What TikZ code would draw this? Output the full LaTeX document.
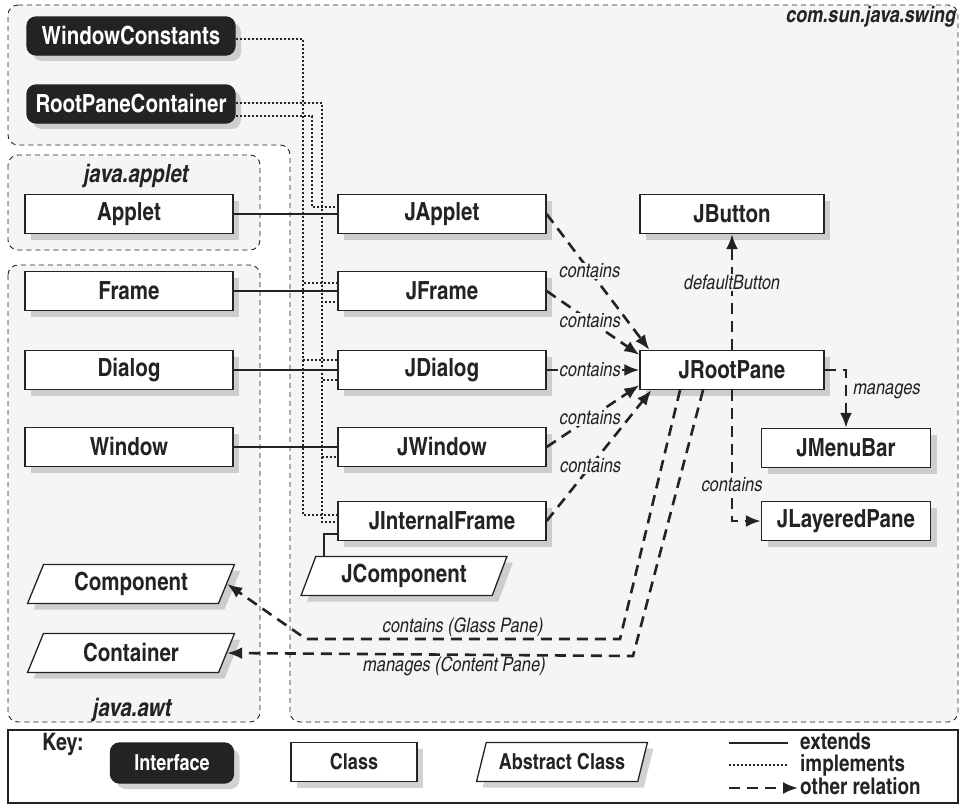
\documentclass[tikz,border=0pt]{standalone}
\usepackage{fontspec}
\setmainfont{texgyreheroscn}[Extension=.otf,UprightFont=*-regular,BoldFont=*-bold,ItalicFont=*-italic,BoldItalicFont=*-bolditalic]
\usetikzlibrary{arrows.meta,shapes.geometric,shadows,calc}
\definecolor{pkgfill}{RGB}{245,245,245}
\definecolor{ink}{RGB}{35,35,35}

\begin{document}
\begin{tikzpicture}[x=1pt,y=-1pt,
    shd/.style={drop shadow={shadow xshift=6pt,shadow yshift=-6pt,fill=black!35}},
    cls/.style={draw=ink, line width=1.3pt, fill=white, minimum width=208pt, minimum height=39pt, font=\fontsize{25}{27}\selectfont\bfseries, text=ink, shd},
    iface/.style={cls, fill=ink, text=white, rounded corners=9pt},
    abst/.style={cls, trapezium, trapezium left angle=70, trapezium right angle=110, trapezium stretches=true},
    keyfont/.style={font=\fontsize{22}{24}\selectfont\bfseries},
    pkg/.style={draw=ink, dash pattern=on 5pt off 4pt, line width=0.9pt, fill=pkgfill, rounded corners=10pt},
    pkglbl/.style={font=\fontsize{25}{27}\selectfont\bfseries\itshape, text=ink, inner sep=0pt},
    ext/.style={draw=ink, line width=1.1pt},
    impl/.style={draw=ink, line width=1.1pt, dash pattern=on 2pt off 2pt},
    rel/.style={draw=ink, line width=2.6pt, dash pattern=on 11pt off 7pt, -{Latex[length=15pt,width=12pt]}},
    lbl/.style={font=\fontsize{20}{22}\selectfont\itshape, text=ink, fill=pkgfill, inner sep=1pt},
    keylbl/.style={font=\fontsize{23}{25}\selectfont\bfseries, text=ink, anchor=west, inner sep=0pt, text height=12pt, text depth=3pt}
]
\useasboundingbox (0,0) rectangle (961,806);

% packages
\path[pkg] (8,5) -- (958,5) -- (958,722) -- (290,722) -- (290,145) -- (8,145) -- cycle;
\path[pkg] (8,155) rectangle (260,250);
\path[pkg] (8,265) rectangle (260,722);
\node[pkglbl, anchor=east, font=\fontsize{22}{24}\selectfont\bfseries\itshape] (swinglbl) at (956,17) {com.sun.java.swing};
\node[pkglbl] (appletlbl) at (136,176) {java.applet};
\node[pkglbl] (awtlbl) at (132,710) {java.awt};

% interfaces and awt classes
\node[iface, minimum height=38pt] (winconst) at (131,36) {WindowConstants};
\node[iface, minimum height=38pt] (rootcont) at (131,104) {RootPaneContainer};
\node[cls] (applet) at (129,214) {Applet};
\node[cls] (frame) at (129,291) {Frame};
\node[cls] (dialog) at (129,370) {Dialog};
\node[cls] (window) at (129,447) {Window};
\node[abst, minimum width=207pt] (component) at (131,584) {Component};
\node[abst, minimum width=207pt] (container) at (131,653) {Container};

% swing classes
\node[cls] (japplet) at (442,214) {JApplet};
\node[cls] (jframe) at (442,291) {JFrame};
\node[cls] (jdialog) at (442,370) {JDialog};
\node[cls] (jwindow) at (442,447) {JWindow};
\node[cls] (jintframe) at (442,521) {JInternalFrame};
\node[abst, minimum width=206pt] (jcomp) at (404,576) {JComponent};
\node[cls, minimum width=184pt] (jbutton) at (732,214) {JButton};
\node[cls, minimum width=184pt] (jroot) at (732,370) {JRootPane};
\node[cls, minimum width=169pt] (jmenu) at (846,448) {JMenuBar};
\node[cls, minimum width=169pt] (jlayer) at (846,521) {JLayeredPane};

% extends
\foreach \a/\b in {applet/japplet, frame/jframe, dialog/jdialog, window/jwindow}
  \draw[ext] (\a) -- (\b);
\coordinate (jcbus) at (324,0);
\draw[ext] ([yshift=-13pt]jintframe.west) -| (jcbus |- jcomp.north);

% implements
\coordinate (wcbus) at (303,0);
\coordinate (rpbus) at (322,0);
\coordinate (apbus) at (312,0);
\foreach \t/\d in {jframe/-8, jdialog/-10, jintframe/-6}
  \draw[impl] ([yshift=-3pt]winconst.east) -| ($(wcbus |- \t.west)+(0,\d)$) -- ($(\t.west)+(0,\d)$);
\foreach \t/\d in {jframe/11, jdialog/10, jwindow/10, jintframe/1}
  \draw[impl] ([yshift=1pt]rootcont.east) -| ($(rpbus |- \t.west)+(0,\d)$) -- ($(\t.west)+(0,\d)$);
\draw[impl] ([yshift=-12pt]rootcont.east) -| ($(apbus |- japplet.west)+(0,-7)$) -- ($(japplet.west)+(0,-7)$);

% other relations
\draw[rel] (japplet.east) -- node[lbl,pos=0.42] {contains} ([xshift=10pt]jroot.north west);
\draw[rel] (jframe.east) -- node[lbl,pos=0.47] {contains} ([yshift=-5pt]jroot.north west);
\draw[rel] (jdialog.east) -- node[lbl,pos=0.47] {contains} (jroot.west);
\draw[rel] (jwindow.east) -- node[lbl,pos=0.47] {contains} ([yshift=5pt]jroot.south west);
\draw[rel] (jintframe.east) -- node[lbl,pos=0.42] {contains} ([xshift=12pt]jroot.south west);
\draw[rel] (jroot.north) -- node[lbl,pos=0.58] {defaultButton} (jbutton.south);
\draw[rel] (jroot.east) -| node[lbl,fill=none,right=5pt,pos=0.68] {manages} (jmenu.north);
\draw[rel] (jroot.south) |- node[lbl,pos=0.36] {contains} (jlayer.west);
\coordinate (gpA) at (620,639);
\coordinate (gpB) at (306,639);
\draw[rel] ([xshift=-52pt]jroot.south) -- (gpA) -- node[lbl,fill=none,above] {contains (Glass Pane)} (gpB) -- (component.east);
\coordinate (cpA) at (633,656);
\draw[rel] ([xshift=-29pt]jroot.south) -- (cpA) -- node[lbl,fill=none,below,pos=0.44] {manages (Content Pane)} (container.east);

% key
\draw[draw=ink, line width=1.3pt, fill=white] (8,730) rectangle (958,803);
\node[keylbl, font=\fontsize{24}{26}\selectfont\bfseries] (keyttl) at (42,746) {Key:};
\node[iface, keyfont, minimum width=123pt, minimum height=40pt] (keyif) at (172,763) {Interface};
\node[cls, keyfont, minimum width=126pt] (keycls) at (354,762) {Class};
\node[abst, keyfont, minimum width=171pt] (keyabs) at (562,762) {Abstract Class};
\node[keylbl] (kext) at (800,745) {extends};
\node[keylbl] (kimp) at (800,767) {implements};
\node[keylbl] (krel) at (800,790) {other relation};
\draw[ext] ($(kext.west)+(-71,-2)$) -- ($(kext.west)+(-12,-2)$);
\draw[impl] ($(kimp.west)+(-71,-2)$) -- ($(kimp.west)+(-12,-2)$);
\draw[rel] ($(krel.west)+(-71,-2)$) -- ($(krel.west)+(-2,-2)$);
\end{tikzpicture}
\end{document}
